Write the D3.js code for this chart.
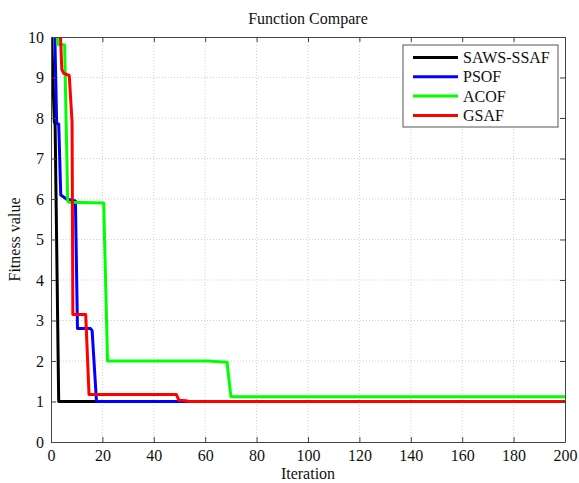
<!DOCTYPE html>
<html><head><meta charset="utf-8">
<script src="https://cdn.jsdelivr.net/npm/d3@7"></script>
<style>body{margin:0;background:#fff}svg{display:block}text{font-family:"Liberation Serif","Times New Roman",serif !important;fill:#111}</style>
</head><body>
<script>
const seriesNames = ["SAWS-SSAF","PSOF","ACOF","GSAF"];
const seriesColors = ["#000000","#0000ff","#00ff00","#ff0000"];
const sawsIter = [0, 1.3, 1.6, 3, 200];
const sawsVal  = [10.5, 7.9, 7.85, 1.0, 1.0];
const psofIter = [0, 1.5, 2.2, 3, 3.8, 6, 9.5, 10.3, 15.4, 16, 17.7, 200];
const psofVal  = [10.5, 10, 7.87, 7.85, 6.1, 6.0, 5.95, 2.8, 2.8, 2.75, 1.0, 1.0];
const acofIter = [2.4, 2.5, 5.3, 6.5, 7, 20.5, 22, 61, 68.5, 70, 200];
const acofVal  = [10.5, 9.82, 9.8, 5.95, 5.92, 5.9, 2.0, 2.0, 1.97, 1.12, 1.12];
const gsafIter = [3.4, 4.2, 5, 7.1, 8.2, 8.5, 13.5, 14.8, 48.8, 49.8, 52.5, 53.5, 200];
const gsafVal  = [10.5, 9.2, 9.1, 9.05, 7.9, 3.15, 3.15, 1.17, 1.17, 1.03, 1.02, 1.0, 1.0];
const xTicks = [0,20,40,60,80,100,120,140,160,180,200];
const yTicks = [0,1,2,3,4,5,6,7,8,9,10];

const W = 579, H = 483;
const m = {l:51, r:14, t:37, b:41};
const svg = d3.select("body").append("svg").attr("width",W).attr("height",H);
const x = d3.scaleLinear().domain([0,200]).range([m.l, W-m.r]);
const y = d3.scaleLinear().domain([0,10]).range([H-m.b, m.t]);
const FF = '"Liberation Serif","Times New Roman",serif';

// grid
const g = svg.append("g");
g.selectAll(".gx").data(xTicks.slice(1,-1)).enter().append("line")
 .attr("x1",d=>x(d)).attr("x2",d=>x(d)).attr("y1",y(0)).attr("y2",y(10))
 .attr("stroke","#cfcfcf").attr("stroke-dasharray","1,2");
g.selectAll(".gy").data(yTicks.slice(1,-1)).enter().append("line")
 .attr("y1",d=>y(d)).attr("y2",d=>y(d)).attr("x1",x(0)).attr("x2",x(200))
 .attr("stroke","#cfcfcf").attr("stroke-dasharray","1,2");

// clip
svg.append("clipPath").attr("id","clip").append("rect")
 .attr("x",x(0)).attr("y",y(10)).attr("width",x(200)-x(0)).attr("height",y(0)-y(10));

const series = [[sawsIter,sawsVal],[psofIter,psofVal],[acofIter,acofVal],[gsafIter,gsafVal]];
const line = d3.line().x(d=>x(d[0])).y(d=>y(d[1]));
const lg = svg.append("g").attr("clip-path","url(#clip)");
series.forEach((s,i)=>{
  const pts = s[0].map((v,j)=>[v,s[1][j]]);
  lg.append("path").attr("d",line(pts)).attr("fill","none")
    .attr("stroke",seriesColors[i]).attr("stroke-width",3).attr("stroke-linejoin","round");
});

// axes (MATLAB-like inner ticks, box)
const axColor = "#444";
const xb = svg.append("g").attr("transform",`translate(0,${y(0)})`)
 .call(d3.axisBottom(x).tickValues(xTicks).tickSizeInner(-5).tickSizeOuter(0).tickPadding(8));
const xt = svg.append("g").attr("transform",`translate(0,${y(10)})`)
 .call(d3.axisTop(x).tickValues(xTicks).tickSizeInner(-5).tickSizeOuter(0).tickFormat(""));
const yl = svg.append("g").attr("transform",`translate(${x(0)},0)`)
 .call(d3.axisLeft(y).tickValues(yTicks).tickSizeInner(-5).tickSizeOuter(0).tickPadding(7));
const yr = svg.append("g").attr("transform",`translate(${x(200)},0)`)
 .call(d3.axisRight(y).tickValues(yTicks).tickSizeInner(-5).tickSizeOuter(0).tickFormat(""));
[xb,xt,yl,yr].forEach(a=>{
  a.attr("font-family",FF).attr("font-size",16);
  a.selectAll("path").attr("stroke",axColor).attr("stroke-width",1);
  a.selectAll("line").attr("stroke",axColor);
  a.selectAll("text").style("font-family",FF).style("font-size","16px").attr("fill","#111");
});

// titles
svg.append("text").attr("x",(x(0)+x(200))/2).attr("y",24).attr("text-anchor","middle")
 .attr("font-size",16).text("Function Compare");
svg.append("text").attr("x",(x(0)+x(200))/2).attr("y",479).attr("text-anchor","middle")
 .attr("font-size",16).text("Iteration");
svg.append("text").attr("transform",`translate(20,${(y(0)+y(10))/2}) rotate(-90)`)
 .attr("text-anchor","middle").attr("font-size",16).text("Fitness value");

// legend
const lgX = 403, lgY = 45, lgW = 155, lgH = 82;
svg.append("rect").attr("x",lgX).attr("y",lgY).attr("width",lgW).attr("height",lgH)
 .attr("fill","#fff").attr("stroke","#555").attr("stroke-width",1);
seriesNames.forEach((n,i)=>{
  const yy = lgY + 12.5 + i*19.3;
  svg.append("line").attr("x1",lgX+10).attr("x2",lgX+55).attr("y1",yy).attr("y2",yy)
   .attr("stroke",seriesColors[i]).attr("stroke-width",3);
  svg.append("text").attr("x",lgX+60).attr("y",yy+5.5).attr("font-size",16).text(n);
});
</script>
</body></html>
